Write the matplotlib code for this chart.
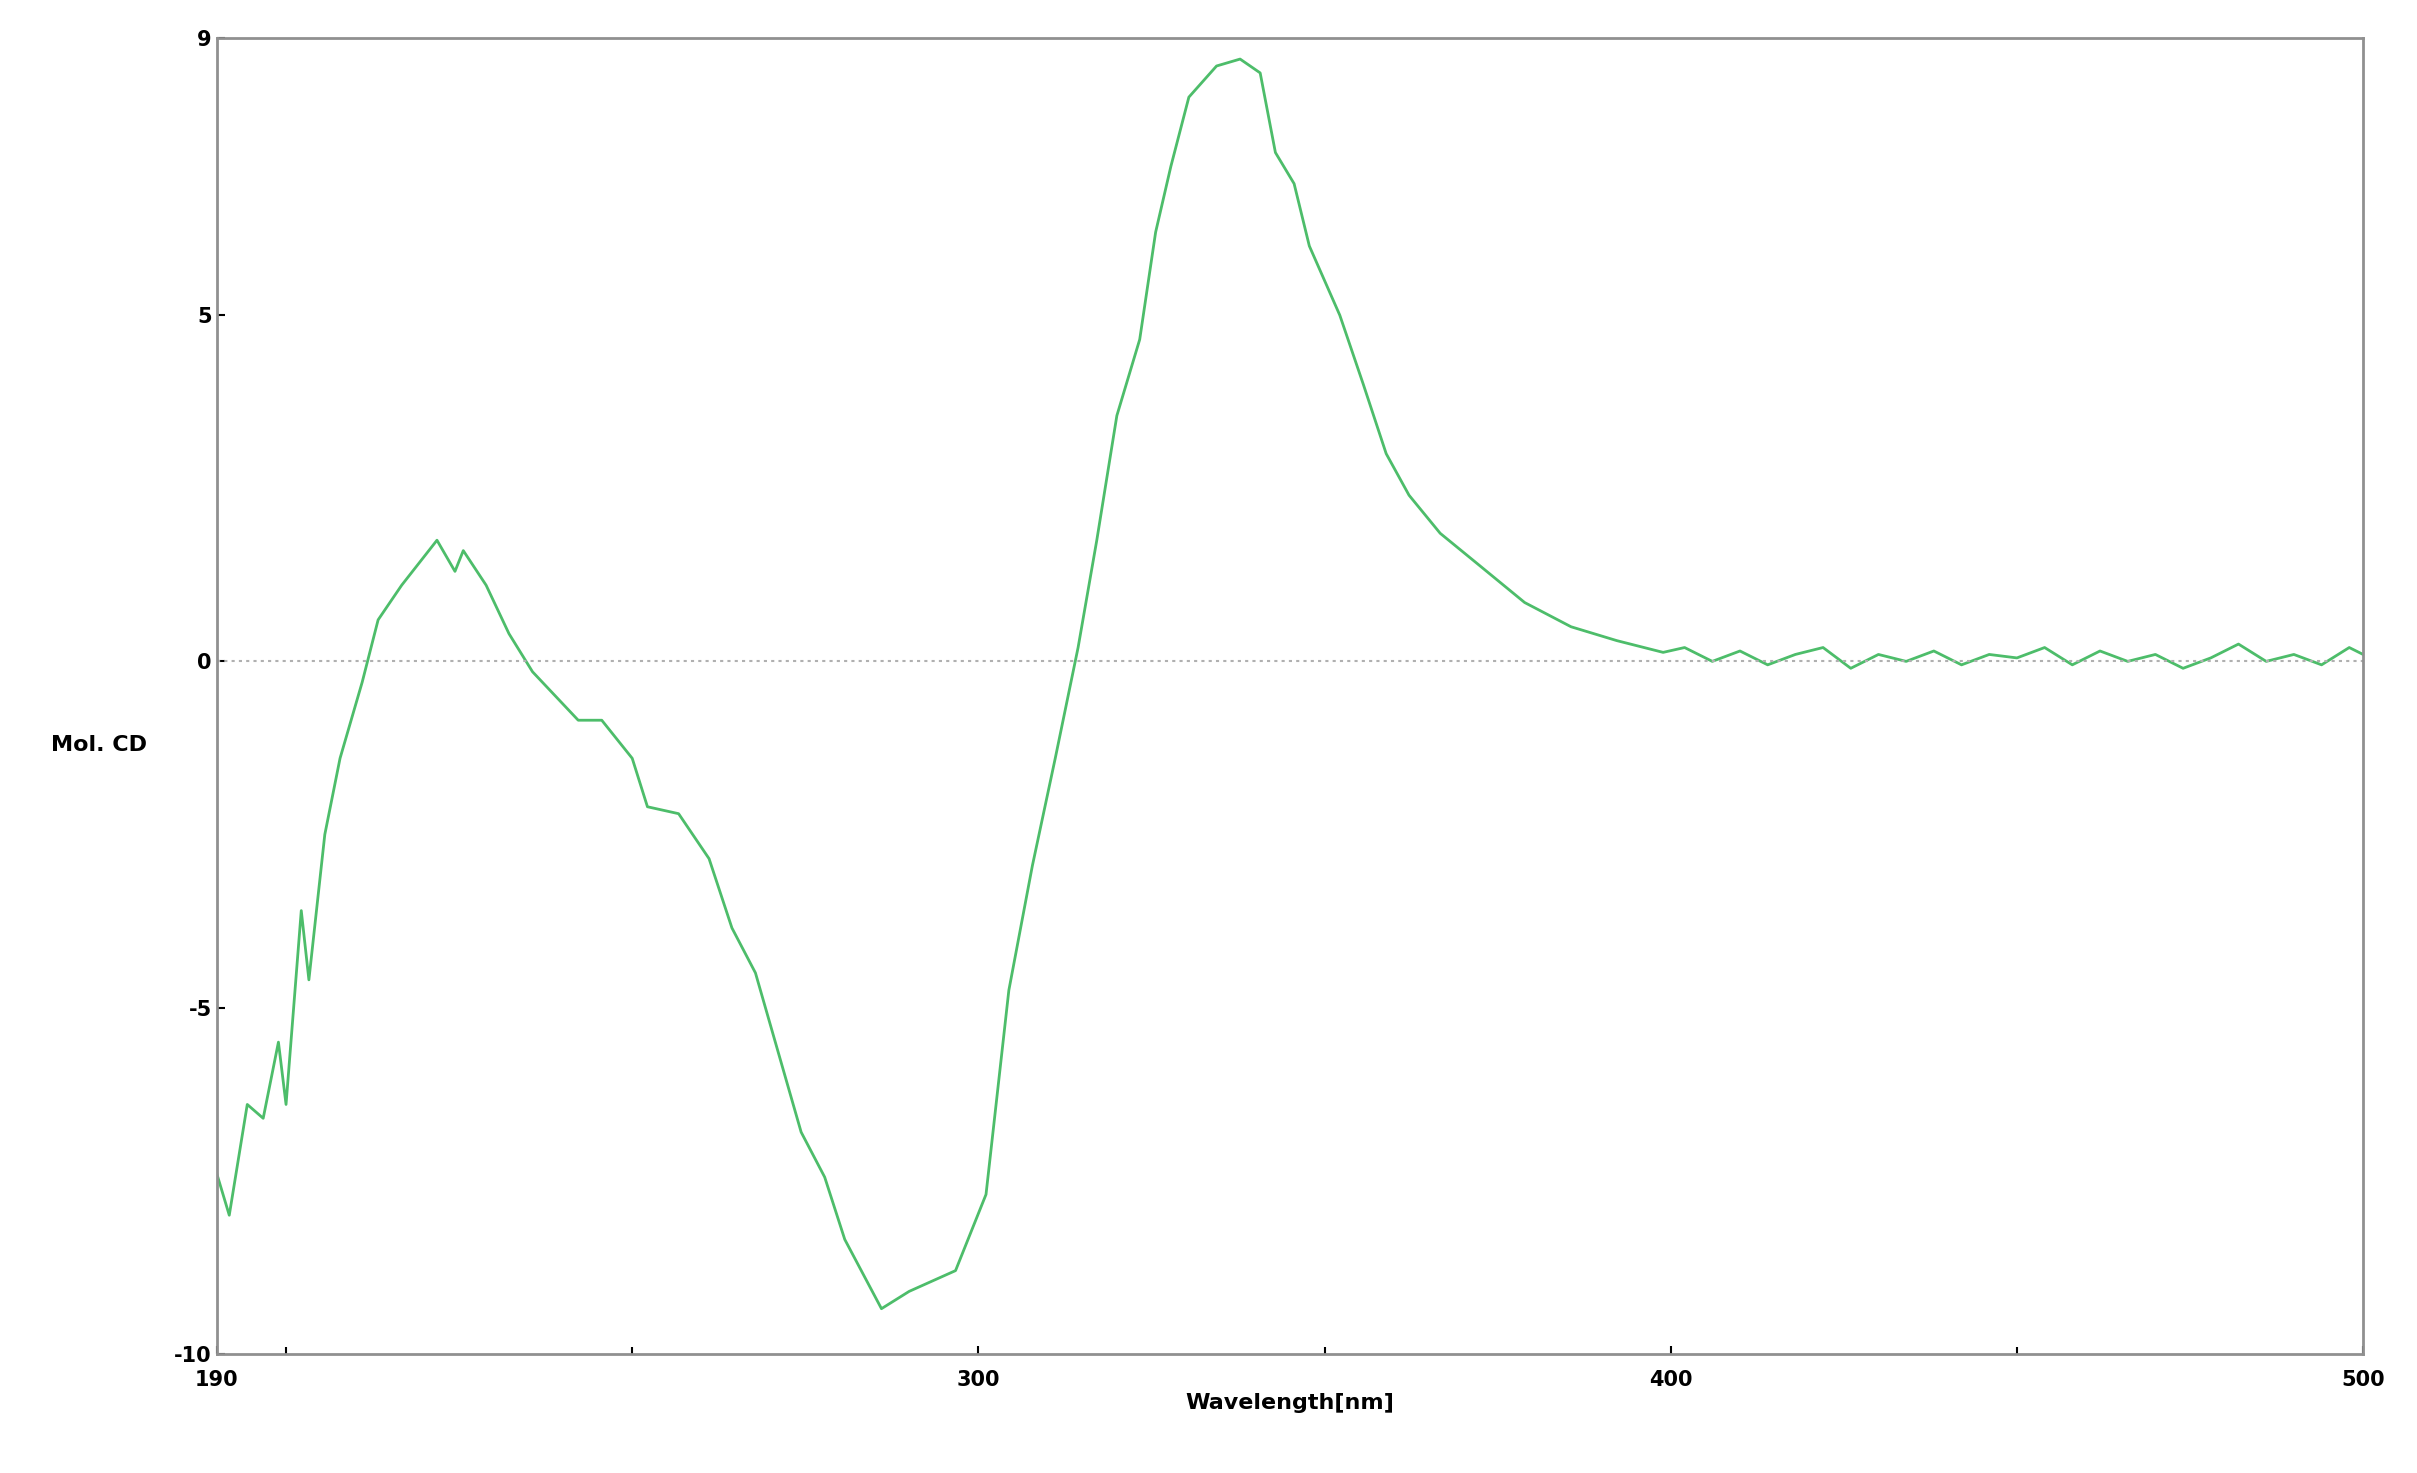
import matplotlib
matplotlib.use("Agg")
import matplotlib.pyplot as plt
plt.rcParams['axes.unicode_minus'] = False

wavelength = [190,191.8,194.4,196.7,198.9,200,202.2,203.3,205.6,207.8,211,213.3,216.7,221.8,224.4,225.6,228.9,232.2,235.6,238.9,242.2,245.6,250,252.2,256.7,261.1,264.4,267.8,271.1,274.4,277.8,280.7,286,290,296.7,301.1,304.4,307.8,311.1,314.4,317.1,320,323.3,325.6,327.8,330.4,334.4,337.8,340.7,342.9,345.6,347.8,352.2,355.6,358.9,362.2,366.7,372.2,378.9,385.6,392.2,398.9,
              402,406,410,414,418,422,426,430,434,438,442,446,450,454,458,462,466,470,474,478,482,486,490,494,498,500]
mol_cd = [-7.4,-8.0,-6.4,-6.6,-5.5,-6.4,-3.6,-4.6,-2.5,-1.4,-0.3,0.6,1.1,1.75,1.3,1.6,1.1,0.4,-0.15,-0.5,-0.85,-0.85,-1.4,-2.1,-2.2,-2.85,-3.85,-4.5,-5.65,-6.8,-7.45,-8.35,-9.35,-9.1,-8.8,-7.7,-4.75,-2.95,-1.4,0.2,1.75,3.55,4.65,6.2,7.15,8.15,8.6,8.7,8.5,7.35,6.9,6.0,5.0,4.0,3.0,2.4,1.85,1.4,0.85,0.5,0.3,0.13,
          0.2,0.0,0.15,-0.05,0.1,0.2,-0.1,0.1,0.0,0.15,-0.05,0.1,0.05,0.2,-0.05,0.15,0.0,0.1,-0.1,0.05,0.25,0.0,0.1,-0.05,0.2,0.1]

fig = plt.figure(figsize=(24.17, 14.73), dpi=100)
ax = fig.add_axes([0.0897, 0.081, 0.888, 0.893])
ax.plot(wavelength, mol_cd, color="#4dbd6a", lw=2)
ax.axhline(0, color="#b0b0b0", ls=(0, (1.5, 2)), lw=1.5)
ax.set_xlim(190, 500)
ax.set_ylim(-10, 9)
ax.set_xticks([190, 300, 400, 500])
ax.set_xticks([200, 250, 350, 450], minor=True)
ax.set_yticks([-10, -5, 0, 5, 9])
ax.tick_params(labelsize=15, direction="in", length=6, width=1.5)
ax.tick_params(axis="x", pad=12)
ax.tick_params(which="minor", direction="in", length=5, width=1.5)
for l in ax.get_xticklabels() + ax.get_yticklabels():
    l.set_fontweight("bold")
for s in ax.spines.values():
    s.set_color("#909090"); s.set_linewidth(2)
ax.set_xlabel("Wavelength[nm]", fontsize=16, fontweight="bold", labelpad=2)
ax.set_ylabel("Mol. CD", fontsize=16, fontweight="bold", rotation=0)
ax.yaxis.set_label_coords(-0.055, 0.455)
fig.savefig("out.png", dpi=100)
